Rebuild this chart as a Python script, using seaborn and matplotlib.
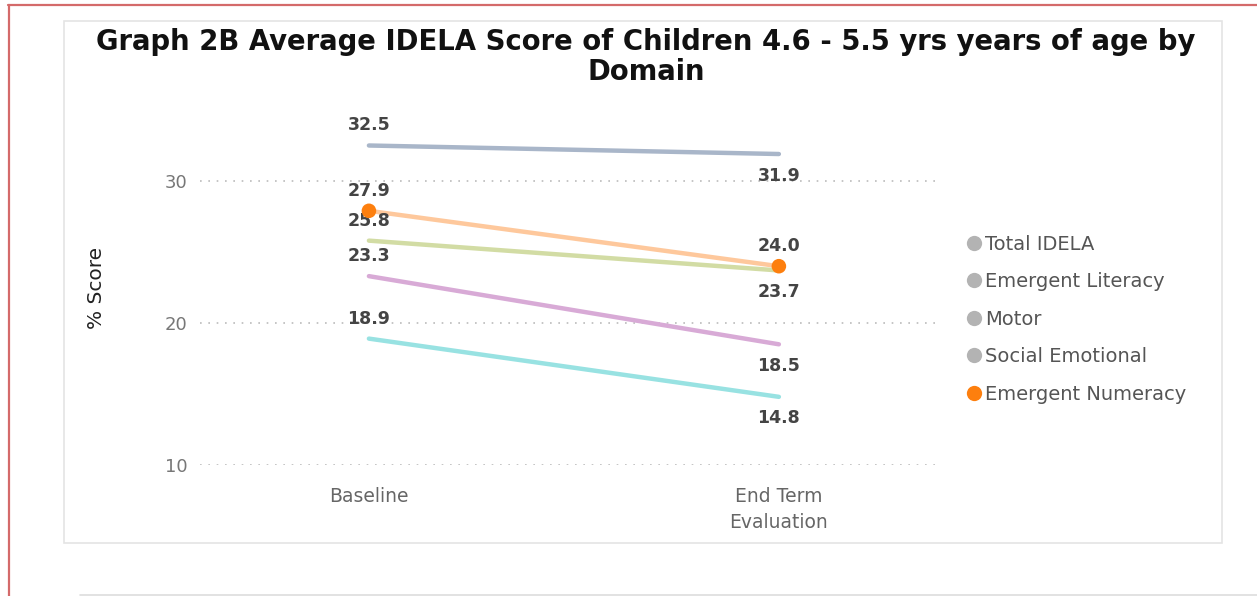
import matplotlib
matplotlib.use("Agg")
import matplotlib.pyplot as plt
from matplotlib.lines import Line2D
from matplotlib.patches import Rectangle
import seaborn as sns
import pandas as pd

periods = ["Baseline", "End Term\nEvaluation"]
domains = ["Total IDELA", "Emergent Literacy", "Motor", "Social Emotional", "Emergent Numeracy"]
total_idela = [25.8, 23.7]
emergent_literacy = [18.9, 14.8]
motor = [32.5, 31.9]
social_emotional = [23.3, 18.5]
emergent_numeracy = [27.9, 24.0]
yticks = [10, 20, 30]

series = dict(zip(domains, [total_idela, emergent_literacy, motor, social_emotional, emergent_numeracy]))
colors = {
    "Total IDELA": "#d2dca4",
    "Emergent Literacy": "#98e2e2",
    "Motor": "#a9b6c9",
    "Social Emotional": "#d8aad6",
    "Emergent Numeracy": "#fec89c",
}
# label above the point at baseline, below at end term (except numeracy, which sits above)
end_above = {"Emergent Numeracy"}

df = pd.DataFrame(
    [(d, i, v) for d in domains for i, v in enumerate(series[d])],
    columns=["domain", "x", "score"],
)

sns.set_theme(style="white")
plt.rcParams["font.family"] = ["DejaVu Sans"]

fig = plt.figure(figsize=(12.57, 5.96), dpi=100)

# page frame
fig.add_artist(Line2D([8 / 1257, 1], [1 - 5 / 596, 1 - 5 / 596], color="#d46a6a", lw=1.6))
fig.add_artist(Line2D([9 / 1257, 9 / 1257], [0, 1 - 5 / 596], color="#d46a6a", lw=1.6))
fig.add_artist(Line2D([80 / 1257, 1], [1 - 595 / 596, 1 - 595 / 596], color="#dddddd", lw=1.2))
# visual card
fig.add_artist(Rectangle((64 / 1257, 1 - 543 / 596), (1222 - 64) / 1257, (543 - 21) / 596,
                         fill=False, edgecolor="#e4e4e4", lw=1.2))

ax = fig.add_axes([200 / 1257, 1 - 465 / 596, 740 / 1257, 355 / 596])

sns.lineplot(data=df, x="x", y="score", hue="domain", palette=colors, linewidth=3.2,
             legend=False, ax=ax, hue_order=domains)
num = df[df["domain"] == "Emergent Numeracy"]
sns.scatterplot(data=num, x="x", y="score", color="#fd7f0e", s=110, edgecolor="none",
                legend=False, ax=ax, zorder=5)

for d in domains:
    vals = series[d]
    ax.annotate(f"{vals[0]:.1f}", (0, vals[0]), xytext=(0, 8), textcoords="offset points",
                ha="center", va="bottom", fontsize=12.5, fontweight="bold", color="#444444")
    if d in end_above:
        ax.annotate(f"{vals[1]:.1f}", (1, vals[1]), xytext=(0, 8), textcoords="offset points",
                    ha="center", va="bottom", fontsize=12.5, fontweight="bold", color="#444444")
    else:
        ax.annotate(f"{vals[1]:.1f}", (1, vals[1]), xytext=(0, -9), textcoords="offset points",
                    ha="center", va="top", fontsize=12.5, fontweight="bold", color="#444444")

ax.set_xlim(-0.412, 1.393)
ax.set_ylim(10, 35)
ax.set_yticks(yticks)
ax.set_xticks([0, 1])
ax.set_xticklabels(periods, fontsize=13.5, color="#666666", linespacing=1.45)
ax.tick_params(axis="y", labelsize=13, labelcolor="#777777", length=0, pad=9)
ax.tick_params(axis="x", length=0, pad=16)
ax.set_xlabel("")
ax.set_ylabel("% Score", fontsize=14.5, color="#222222", labelpad=42)
ax.grid(axis="y", linestyle=(0, (1, 4)), color="#bbbbbb", lw=1.2)
ax.grid(axis="x", visible=False)
for s in ax.spines.values():
    s.set_visible(False)

handles = [Line2D([], [], marker="o", linestyle="none", markersize=11,
                  markerfacecolor="#fd7f0e" if d == "Emergent Numeracy" else "#b3b3b3",
                  markeredgecolor="none", label=d) for d in domains]
fig.legend(handles=handles, loc="upper left", bbox_to_anchor=(949 / 1257, 1 - 225 / 596),
           frameon=False, fontsize=14, labelcolor="#555555", handletextpad=-0.25,
           labelspacing=0.95, handlelength=1.6, borderpad=0)

fig.text(646 / 1257, 1 - 42 / 596,
         "Graph 2B Average IDELA Score of Children 4.6 - 5.5 yrs years of age by",
         ha="center", va="center", fontsize=19.8, fontweight="bold", color="#111111")
fig.text(646 / 1257, 1 - 72 / 596, "Domain", ha="center", va="center", fontsize=19.8,
         fontweight="bold", color="#111111")

fig.savefig("out.png", dpi=100, facecolor="white")
